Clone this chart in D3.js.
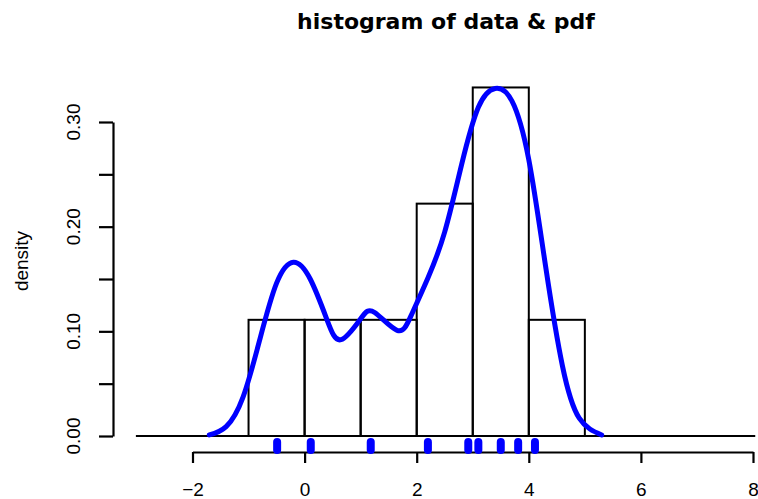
<!DOCTYPE html>
<html>
<head>
<meta charset="utf-8">
<script src="https://cdn.jsdelivr.net/npm/d3@7"></script>
<style>
  body { margin: 0; background: #fff; }
  text { font-family: "Liberation Sans", Arial, sans-serif; fill: #000; }
</style>
</head>
<body>
<div id="chart"></div>
<script>
// histogram bins (breaks) and their densities
const breaks = [-1, 0, 1, 2, 3, 4, 5]
const densities = [0.111, 0.111, 0.111, 0.222, 0.333, 0.111]

// raw observations shown as a rug
const rugValues = [-0.49, 0.11, 1.18, 2.20, 2.92, 3.10, 3.50, 3.81, 4.11]

// pdf curve
const pdfX = [-1.7, -1.4, -1.1, -0.8, -0.5, -0.2, 0.1, 0.4, 0.65, 1.0, 1.25, 1.65, 1.9, 2.2, 2.5, 2.8, 3.1, 3.4, 3.7, 4.0, 4.3, 4.6, 4.9, 5.3]
const pdfY = [0.001, 0.009, 0.037, 0.092, 0.146, 0.166, 0.150, 0.111, 0.092, 0.112, 0.118, 0.101, 0.115, 0.151, 0.195, 0.259, 0.314, 0.332, 0.320, 0.264, 0.162, 0.067, 0.017, 0.001]

// ticks
const xTicks = [-2, 0, 2, 4, 6, 8]
const yTicks = [0, 0.05, 0.10, 0.15, 0.20, 0.25, 0.30]
const yTickLabels = ["0.00", "0.10", "0.20", "0.30"]
const xLimits = [-3.01, 8.04]

// 1. dimensions
const width = 758
const height = 499

const xScale = d3.scaleLinear()
  .domain([-2, 8])
  .range([192.5, 753])

const yScale = d3.scaleLinear()
  .domain([0, 0.30])
  .range([436, 122])

// 2. canvas
const svg = d3.select("#chart")
  .append("svg")
    .attr("width", width)
    .attr("height", height)

// 3. title and y label
svg.append("text")
    .attr("x", 446)
    .attr("y", 29)
    .attr("text-anchor", "middle")
    .style("font-family", "'DejaVu Sans', sans-serif")
    .style("font-weight", "bold")
    .style("font-size", "22px")
    .text("histogram of data & pdf")

svg.append("text")
    .attr("transform", "translate(28, 261) rotate(-90)")
    .attr("text-anchor", "middle")
    .style("font-size", "19px")
    .text("density")

// 4. baseline through the plot region
svg.append("line")
    .attr("x1", xScale(xLimits[0]))
    .attr("x2", xScale(xLimits[1]))
    .attr("y1", yScale(0))
    .attr("y2", yScale(0))
    .attr("stroke", "#000")
    .attr("stroke-width", 2)

// 5. histogram bars
const bins = densities.map((d, i) => ({ x0: breaks[i], x1: breaks[i + 1], density: d }))

svg.append("g")
  .selectAll("rect")
  .data(bins)
  .join("rect")
    .attr("x", d => xScale(d.x0))
    .attr("y", d => yScale(d.density))
    .attr("width", d => xScale(d.x1) - xScale(d.x0))
    .attr("height", d => yScale(0) - yScale(d.density))
    .attr("fill", "none")
    .attr("stroke", "#000")
    .attr("stroke-width", 2)

// 6. pdf curve
const lineGenerator = d3.line()
  .x(d => xScale(d[0]))
  .y(d => yScale(d[1]))
  .curve(d3.curveNatural)

svg.append("path")
    .datum(d3.zip(pdfX, pdfY))
    .attr("d", lineGenerator)
    .attr("fill", "none")
    .attr("stroke", "#0000ff")
    .attr("stroke-width", 5)
    .attr("stroke-linejoin", "round")
    .attr("stroke-linecap", "round")

// 7. axes
const xAxis = svg.append("g")
    .attr("transform", "translate(0, 452)")
    .call(d3.axisBottom(xScale)
      .tickValues(xTicks)
      .tickSize(11)
      .tickSizeOuter(0)
      .tickPadding(20)
      .tickFormat(d => d3.format("")(d).replace("-", "\u2212")))

xAxis.selectAll("path, line")
    .attr("stroke", "#000")
    .attr("stroke-width", 2.2)
xAxis.selectAll("text")
    .style("font-size", "19px")
    .attr("fill", "#000")

const yAxis = svg.append("g")
    .attr("transform", "translate(113, 0)")
    .call(d3.axisLeft(yScale)
      .tickValues(yTicks)
      .tickSize(14)
      .tickSizeOuter(0)
      .tickFormat(""))

yAxis.selectAll("path, line")
    .attr("stroke", "#000")
    .attr("stroke-width", 2.2)

svg.append("g")
  .selectAll("text")
  .data(yTickLabels)
  .join("text")
    .attr("transform", d => `translate(80, ${yScale(+d)}) rotate(-90)`)
    .attr("text-anchor", "middle")
    .style("font-size", "19px")
    .text(d => d)

// 8. rug
svg.append("g")
  .selectAll("line")
  .data(rugValues)
  .join("line")
    .attr("x1", d => xScale(d))
    .attr("x2", d => xScale(d))
    .attr("y1", 442)
    .attr("y2", 450)
    .attr("stroke", "#0000ff")
    .attr("stroke-width", 8)
    .attr("stroke-linecap", "round")
</script>
</body>
</html>
